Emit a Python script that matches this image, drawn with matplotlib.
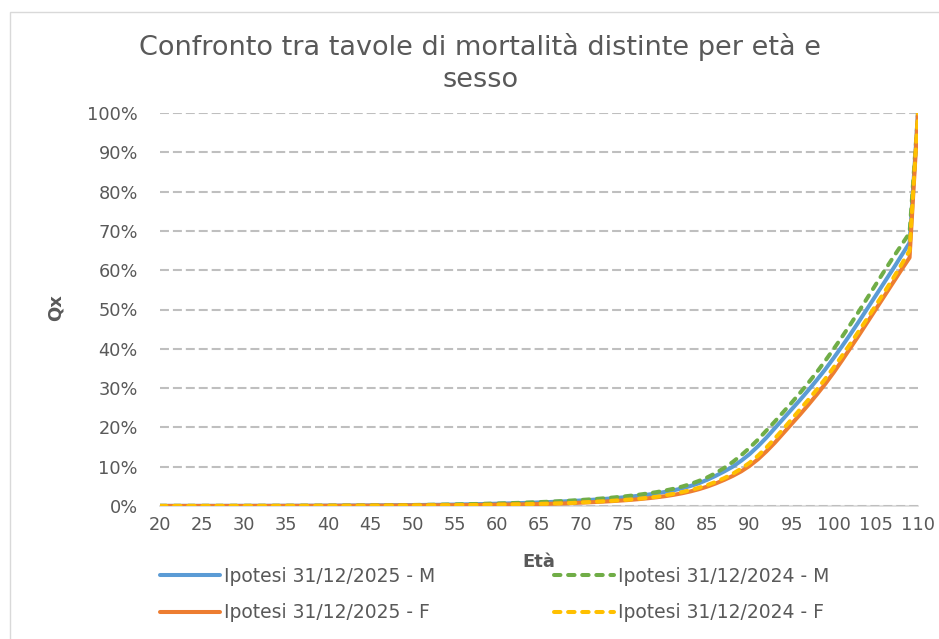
import matplotlib
matplotlib.use("Agg")
import matplotlib.pyplot as plt
from matplotlib.ticker import PercentFormatter, MultipleLocator
from matplotlib.patches import Rectangle

# età 20..110 e probabilità di morte qx (in %)
ages = list(range(20, 111))

qx_m_2025 = [
    0.04, 0.04, 0.04, 0.04, 0.04, 0.04, 0.04, 0.04, 0.05, 0.05,
    0.05, 0.05, 0.06, 0.06, 0.06, 0.07, 0.07, 0.08, 0.08, 0.09,
    0.10, 0.11, 0.12, 0.13, 0.14, 0.15, 0.17, 0.18, 0.20, 0.22,
    0.24, 0.26, 0.29, 0.31, 0.34, 0.37, 0.41, 0.45, 0.49, 0.54,
    0.59, 0.64, 0.70, 0.76, 0.83, 0.91, 0.99, 1.08, 1.18, 1.29,
    1.41, 1.54, 1.68, 1.84, 2.01, 2.20, 2.41, 2.65, 2.92, 3.22,
    3.60, 4.00, 4.50, 5.10, 5.80, 6.70, 7.70, 8.80, 10.0, 11.5,
    13.2, 15.2, 17.4, 19.8, 22.2, 24.6, 27.0, 29.5, 32.1, 34.8,
    37.7, 40.7, 43.8, 47.0, 50.3, 53.6, 56.9, 60.2, 63.6, 67.0,
    100.0,
]
qx_m_2024 = [
    0.05, 0.05, 0.05, 0.05, 0.05, 0.05, 0.05, 0.05, 0.05, 0.06,
    0.06, 0.06, 0.06, 0.07, 0.07, 0.08, 0.08, 0.09, 0.09, 0.10,
    0.11, 0.12, 0.13, 0.14, 0.15, 0.17, 0.18, 0.20, 0.22, 0.24,
    0.26, 0.29, 0.31, 0.34, 0.37, 0.41, 0.45, 0.49, 0.54, 0.59,
    0.64, 0.70, 0.76, 0.83, 0.91, 0.99, 1.08, 1.18, 1.29, 1.41,
    1.54, 1.68, 1.84, 2.01, 2.20, 2.41, 2.65, 2.92, 3.22, 3.55,
    3.95, 4.40, 4.95, 5.60, 6.40, 7.30, 8.40, 9.70, 11.2, 12.9,
    14.8, 16.9, 19.2, 21.5, 23.9, 26.3, 28.8, 31.4, 34.1, 37.0,
    40.0, 43.1, 46.3, 49.6, 53.0, 56.4, 59.8, 63.1, 66.3, 69.5,
    100.0,
]
qx_f_2025 = [
    0.02, 0.02, 0.02, 0.02, 0.02, 0.02, 0.02, 0.02, 0.02, 0.02,
    0.02, 0.03, 0.03, 0.03, 0.03, 0.04, 0.04, 0.04, 0.05, 0.05,
    0.06, 0.06, 0.07, 0.07, 0.08, 0.09, 0.10, 0.11, 0.12, 0.13,
    0.14, 0.15, 0.17, 0.18, 0.20, 0.21, 0.23, 0.25, 0.28, 0.30,
    0.33, 0.36, 0.39, 0.42, 0.46, 0.50, 0.55, 0.60, 0.66, 0.73,
    0.85, 0.94, 1.04, 1.15, 1.28, 1.42, 1.58, 1.77, 1.98, 2.22,
    2.50, 2.84, 3.24, 3.72, 4.28, 4.95, 5.75, 6.65, 7.65, 8.80,
    10.2, 11.9, 13.9, 16.1, 18.5, 20.9, 23.3, 25.8, 28.4, 31.1,
    34.0, 37.1, 40.3, 43.5, 46.8, 50.1, 53.4, 56.7, 60.0, 63.2,
    100.0,
]
qx_f_2024 = [
    0.02, 0.02, 0.02, 0.02, 0.02, 0.02, 0.02, 0.03, 0.03, 0.03,
    0.03, 0.03, 0.03, 0.03, 0.04, 0.04, 0.04, 0.05, 0.05, 0.06,
    0.06, 0.07, 0.07, 0.08, 0.09, 0.10, 0.11, 0.12, 0.13, 0.14,
    0.15, 0.16, 0.18, 0.19, 0.21, 0.23, 0.25, 0.27, 0.30, 0.32,
    0.35, 0.38, 0.42, 0.45, 0.49, 0.54, 0.59, 0.65, 0.71, 0.78,
    0.91, 1.01, 1.12, 1.24, 1.37, 1.52, 1.69, 1.89, 2.11, 2.36,
    2.75, 3.12, 3.55, 4.05, 4.65, 5.35, 6.15, 7.10, 8.20, 9.50,
    11.0, 12.8, 14.9, 17.2, 19.6, 22.1, 24.6, 27.1, 29.7, 32.4,
    35.3, 38.3, 41.4, 44.6, 47.8, 51.1, 54.4, 57.8, 61.3, 65.0,
    100.0,
]

series_labels = [
    "Ipotesi 31/12/2025 - M",
    "Ipotesi 31/12/2024 - M",
    "Ipotesi 31/12/2025 - F",
    "Ipotesi 31/12/2024 - F",
]
x_ticks = list(range(20, 111, 5))

TXT = "#595959"
W, H = 939, 639

fig = plt.figure(figsize=(W / 100, H / 100), dpi=100)

# cornice grigia dell'area grafico (tagliata a destra e in basso)
fig.patches.append(Rectangle((10 / W, -0.05), 1.0, 1.05 - 12 / H,
                             transform=fig.transFigure, fill=False,
                             edgecolor="#D9D9D9", linewidth=1.0))

ax = fig.add_axes([160 / W, 1 - 506 / H, (918 - 160) / W, (506 - 113) / H])

dash = (0, (1.6, 1.9))
lw = 2.9
ax.plot(ages, qx_m_2025, color="#5B9BD5", lw=lw, solid_capstyle="round",
        solid_joinstyle="round", label=series_labels[0])
ax.plot(ages, qx_m_2024, color="#70AD47", lw=lw, ls=dash, dash_capstyle="round",
        label=series_labels[1])
ax.plot(ages, qx_f_2025, color="#ED7D31", lw=lw, solid_capstyle="round",
        solid_joinstyle="round", label=series_labels[2])
ax.plot(ages, qx_f_2024, color="#FFC000", lw=lw, ls=dash, dash_capstyle="round",
        label=series_labels[3])

ax.set_xlim(20, 110)
ax.set_ylim(0, 100)
ax.set_xticks(x_ticks)
ax.yaxis.set_major_locator(MultipleLocator(10))
ax.yaxis.set_major_formatter(PercentFormatter(100, decimals=0))

# griglia tratteggiata
ax.set_axisbelow(True)
ax.grid(axis="y", color="#BFBFBF", linewidth=1.5, linestyle=(0, (4.3, 1.9)))
ax.grid(axis="x", visible=False)

for side in ["top", "right", "left"]:
    ax.spines[side].set_visible(False)
ax.spines["bottom"].set_color("#D9D9D9")
ax.spines["bottom"].set_linewidth(1.2)
ax.spines["bottom"].set_zorder(0.5)

ax.tick_params(axis="both", length=0, labelsize=12.8, labelcolor=TXT)
ax.tick_params(axis="y", pad=16)
ax.tick_params(axis="x", pad=7)

# titolo e titoli degli assi
fig.text(480 / W, 1 - 47 / H, "Confronto tra tavole di mortalità distinte per età e",
         ha="center", va="center", fontsize=19.5, color=TXT)
fig.text(481 / W, 1 - 80 / H, "sesso", ha="center", va="center",
         fontsize=19.5, color=TXT)
fig.text(56 / W, 1 - 308 / H, "Qx", rotation=90, ha="center", va="center",
         fontsize=13, fontweight="bold", color=TXT)
fig.text(539 / W, 1 - 562 / H, "Età", ha="center", va="center",
         fontsize=13, fontweight="bold", color=TXT)

# legenda su due righe: riga 1 maschi, riga 2 femmine
lines = ax.get_lines()
handles = [lines[0], lines[2], lines[1], lines[3]]
labels = [series_labels[0], series_labels[2], series_labels[1], series_labels[3]]
leg = fig.legend(handles, labels, loc="upper left",
                 bbox_to_anchor=(160 / W, 1 - 567 / H), ncol=2, frameon=False,
                 fontsize=13.5, handlelength=3.2, handletextpad=0.22,
                 columnspacing=6.3, labelspacing=0.92, borderpad=0,
                 borderaxespad=0)
for t in leg.get_texts():
    t.set_color(TXT)

fig.savefig("out.png", dpi=100)
